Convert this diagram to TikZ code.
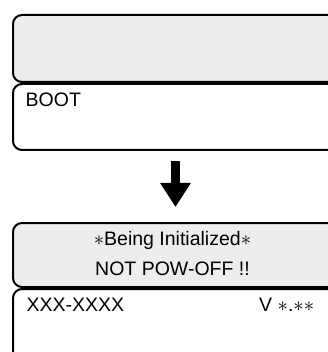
\documentclass[tikz,border=0pt]{standalone}
\usepackage{fontspec}
\setmainfont{Liberation Sans}
\usetikzlibrary{arrows.meta, positioning}
\definecolor{panel}{HTML}{EDEDED}
\definecolor{frame}{HTML}{000000}

\begin{document}
\begin{tikzpicture}[font=\fontsize{19.5}{30}\selectfont,
    lcdrow/.style={draw=frame, line width=2pt, rounded corners=9pt, minimum width=325pt, inner sep=0pt},
    lcdtext/.style={inner sep=0pt, anchor=base west}]
      \useasboundingbox (0,0) rectangle (328pt,-352pt);
      % screen before
      \node[lcdrow, fill=panel, minimum height=67pt] (blank) at (175.5pt,-48.5pt) {};
      \node[lcdrow, fill=white, minimum height=66pt, below=0pt of blank] (boot) {};
      \node[lcdtext] (boottxt) at ([xshift=13.5pt, yshift=-23.5pt]boot.north west) {BOOT};
      % screen after
      \node[lcdrow, fill=panel, minimum height=64pt, below=71pt of boot] (init) {};
      \node[lcdrow, fill=white, minimum height=80pt, below=0pt of init] (version) {};
      \node[inner sep=0pt, anchor=base] (initmsg) at ([xshift=-3pt, yshift=-23pt]init.north) {${\ast}$Being Initialized${\ast}$};
      \node[inner sep=0pt, anchor=base] (nooff) at ([xshift=-3pt, yshift=-53pt]init.north) {NOT POW-OFF !!};
      \node[lcdtext] (model) at ([xshift=14.5pt, yshift=-23.5pt]version.north west) {XXX-XXXX};
      \node[lcdtext] (vernum) at ([xshift=247pt, yshift=-23.5pt]version.north west) {V ${\ast}$.${\ast}{\ast}$};
      \draw[line width=9pt, -{Triangle[length=24pt, width=29pt]}, frame]
        ([yshift=-10pt]boot.south) -- ([yshift=15pt]init.north);
    \end{tikzpicture}
\end{document}
